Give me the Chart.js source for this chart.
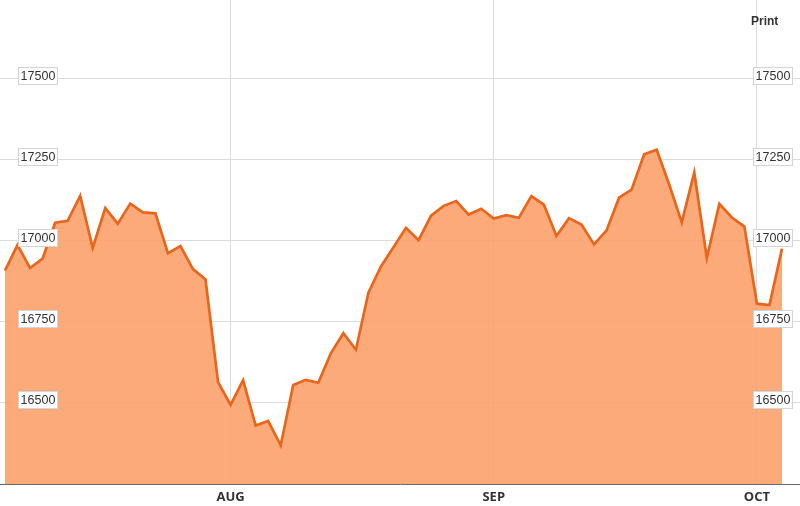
<!DOCTYPE html>
<html><head><meta charset="utf-8">
<script src="https://cdn.jsdelivr.net/npm/chart.js@4"></script>
<style>html,body{margin:0;padding:0;background:#fff;}#wrap{position:relative;width:800px;height:506px;}</style>
</head><body><div id="wrap"><canvas id="c" width="800" height="506"></canvas></div>
<script>
const dates = ['Jul 8','Jul 9','Jul 10','Jul 11','Jul 14','Jul 15','Jul 16','Jul 17','Jul 18','Jul 21','Jul 22','Jul 23','Jul 24','Jul 25','Jul 28','Jul 29','Jul 30','Jul 31',
  'Aug 1','Aug 4','Aug 5','Aug 6','Aug 7','Aug 8','Aug 11','Aug 12','Aug 13','Aug 14','Aug 15','Aug 18','Aug 19','Aug 20','Aug 21','Aug 22','Aug 25','Aug 26','Aug 27','Aug 28','Aug 29',
  'Sep 2','Sep 3','Sep 4','Sep 5','Sep 8','Sep 9','Sep 10','Sep 11','Sep 12','Sep 15','Sep 16','Sep 17','Sep 18','Sep 19','Sep 22','Sep 23','Sep 24','Sep 25','Sep 26','Sep 29','Sep 30',
  'Oct 1','Oct 2','Oct 3'];
const closes = [16907,16986,16915,16944,17055,17061,17138,16977,17100,17052,17114,17087,17084,16961,16983,16912,16880,16563,
  16493,16569,16429,16443,16368,16554,16570,16561,16652,16714,16663,16839,16920,16979,17039,17001,17077,17107,17122,17080,17098,
  17068,17078,17070,17137,17111,17014,17069,17049,16988,17031,17132,17157,17266,17280,17173,17056,17210,16946,17113,17071,17043,
  16805,16801,16975];
const monthLabels = ['AUG','SEP','OCT'];
const monthStartDates = ['Aug 1','Sep 2','Oct 1'];
const yTickValues = [16500,16750,17000,17250,17500];
const printLabel = 'Print';

const monthIdx = monthStartDates.map(d => dates.indexOf(d));
const points = closes.map((v, i) => ({x: i, y: v}));

const boxLabels = {
  id: 'boxLabels',
  afterDraw(chart) {
    const ctx = chart.ctx;
    const ys = chart.scales.y;
    ctx.save();
    ctx.font = '12.5px "Liberation Sans", Arial, sans-serif';
    ctx.textAlign = 'center';
    ctx.textBaseline = 'middle';
    yTickValues.forEach(v => {
      const py = Math.round(ys.getPixelForValue(v));
      [18, 753].forEach(bx => {
        ctx.fillStyle = '#fff';
        ctx.fillRect(bx, py - 12, 40, 18);
        ctx.strokeStyle = '#d4d4d4';
        ctx.lineWidth = 1;
        ctx.strokeRect(bx + 0.5, py - 11.5, 39, 17);
        ctx.fillStyle = '#333';
        ctx.fillText(String(v), bx + 20, py - 2.5);
      });
    });
    ctx.font = 'bold 12px "Liberation Sans", Arial, sans-serif';
    ctx.textAlign = 'left';
    ctx.fillStyle = '#333';
    ctx.fillText(printLabel, 751, 22);
    ctx.restore();
  }
};

new Chart(document.getElementById('c'), {
  type: 'line',
  data: { datasets: [{
    data: points,
    borderColor: '#E8661C',
    borderWidth: 2.7,
    backgroundColor: 'rgba(252,161,108,0.9)',
    fill: 'start',
    pointRadius: 0,
    tension: 0,
    borderJoinStyle: 'miter'
  }]},
  options: {
    responsive: false,
    animation: false,
    devicePixelRatio: 1,
    layout: { padding: 0 },
    plugins: { legend: {display: false}, tooltip: {enabled: false} },
    scales: {
      x: {
        type: 'linear',
        min: -0.399, max: 63.436,
        afterBuildTicks: s => { s.ticks = monthIdx.map(v => ({value: v})); },
        afterFit: s => { s.height = 22; },
        ticks: {
          callback: v => monthLabels[monthIdx.indexOf(v)] || '',
          font: { family: '"Open Sans", Arial, sans-serif', size: 13, weight: 'bold' },
          color: '#333', padding: 5, maxRotation: 0, autoSkip: false
        },
        grid: { color: '#dcdcdc', drawTicks: false, lineWidth: 1 },
        border: { display: true, color: '#6a6a6a', width: 1 }
      },
      y: {
        min: 16248.5, max: 17742.3,
        afterBuildTicks: s => { s.ticks = yTickValues.map(v => ({value: v})); },
        afterFit: s => { s.width = 0; },
        ticks: { display: false },
        grid: { color: '#dcdcdc', drawTicks: false, lineWidth: 1 },
        border: { display: false }
      }
    }
  },
  plugins: [boxLabels]
});
</script></body></html>
